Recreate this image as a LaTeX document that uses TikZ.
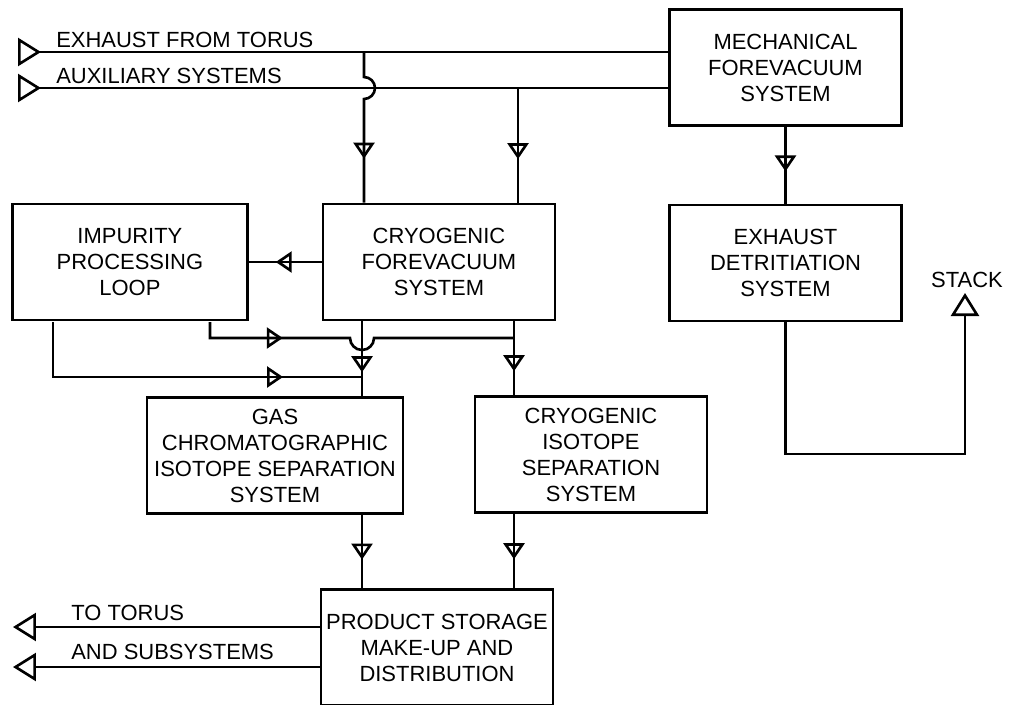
\documentclass[tikz,border=0pt]{standalone}
\usepackage{fontspec}
\setmainfont{Liberation Sans}
\usetikzlibrary{positioning,arrows.meta,decorations.markings}

\begin{document}
\begin{tikzpicture}[
        x=0.02cm, y=-0.02cm,
        font=\fontsize{12.5}{14.8}\selectfont,
        line width=1.5pt,
        box/.style={draw, align=center, minimum width=4.64cm, minimum height=2.32cm, inner sep=1pt},
        tag/.style={inner sep=0pt, anchor=base west},
        flow/.style={postaction={decorate}, decoration={markings,
            mark=at position #1 with {\arrow{Triangle[open, length=3.2mm, width=4.2mm]}}}},
        feed/.tip={Triangle[open, reversed, length=4.6mm, width=5.6mm]},
        outlet/.tip={Triangle[open, length=4.6mm, width=5.6mm]}
    ]
        \useasboundingbox (0,0) rectangle (1011,704);

        \node[box] (mech) at (785.5,67.5) {MECHANICAL\\FOREVACUUM\\SYSTEM};
        \node[box, below=1.54cm of mech] (detrit) {EXHAUST\\DETRITIATION\\SYSTEM};
        \node[box] (cryo) at (439,262) {CRYOGENIC\\FOREVACUUM\\SYSTEM};
        \node[box, minimum width=4.7cm, left=1.46cm of cryo] (imp) {IMPURITY\\PROCESSING\\LOOP};
        \node[box, minimum width=5.12cm] (gc) at (275,455.5) {GAS\\CHROMATOGRAPHIC\\ISOTOPE SEPARATION\\SYSTEM};
        \node[box] (cis) at (591,454.5) {CRYOGENIC\\ISOTOPE\\SEPARATION\\SYSTEM};
        \node[box] (prod) at (437,647.5) {PRODUCT STORAGE\\MAKE-UP AND\\DISTRIBUTION};

        % free ends and junctions
        \coordinate (exin) at (18,52);
        \coordinate (auxin) at (18,88);
        \coordinate (exj) at (364,52);
        \coordinate (auxj) at (518,88);
        \coordinate (tapa) at (210,322);
        \coordinate (tapb) at (53,322);
        \coordinate (lj) at (362,377);
        \coordinate (rj) at (514,338);
        \coordinate (stack) at (965,293);
        \coordinate (stackturn) at (965,454);
        \coordinate (torus) at (13,627);
        \coordinate (subsys) at (13,667);

        \node[tag] (exlbl) at (55,47) {EXHAUST FROM TORUS};
        \node[tag] (auxlbl) at (55,83) {AUXILIARY SYSTEMS};
        \node[tag] (toruslbl) at (70,620) {TO TORUS};
        \node[tag] (sublbl) at (70,659) {AND SUBSYSTEMS};
        \node[tag, anchor=base] (stacklbl) at (967,287) {STACK};

        \draw[{feed}-] (exin) -- (exin -| mech.west);
        \draw[{feed}-] (auxin) -- (auxin -| mech.west);
        \draw[flow=0.73] (exj) -- ++(0,25) arc[start angle=-90, end angle=90, radius=11] -- (exj |- cryo.north);
        \draw[flow=0.62] (auxj) -- (auxj |- cryo.north);
        \draw[flow=0.58] (mech.south) -- (detrit.north);
        \draw[flow=0.63] (cryo.west) -- (cryo.west -| imp.east);
        \draw[flow=0.266] (tapa) -- ++(0,16) -- ++(140,0) arc[start angle=180, end angle=0, radius=12] -- (rj);
        \draw[flow=0.783] (tapb) |- (lj);
        \draw[flow=0.68] (cryo.south -| lj) -- (lj |- gc.north);
        \draw[flow=0.675] (cryo.south -| rj) -- (rj |- cis.north);
        \draw[flow=0.61] (lj |- gc.south) -- (lj |- prod.north);
        \draw[flow=0.61] (rj |- cis.south) -- (rj |- prod.north);
        \draw[-{outlet}] (prod.west |- torus) -- (torus);
        \draw[-{outlet}] (prod.west |- subsys) -- (subsys);
        \draw[-{outlet}] (detrit.south) |- (stackturn) -- (stack);
    \end{tikzpicture}
\end{document}
